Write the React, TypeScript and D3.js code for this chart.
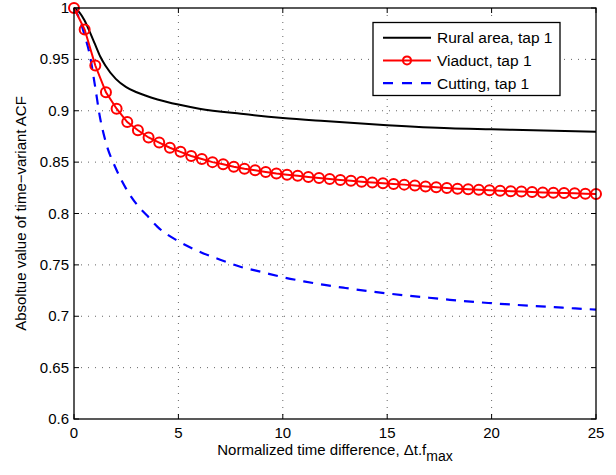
import React from "react";
import * as d3 from "d3";

// rural area, tap 1 (black solid)
const ruralT = [0, 0.25, 0.5, 0.75, 1, 1.25, 1.5, 2, 2.5, 3, 4, 5, 6, 8, 10, 12, 15, 18, 20, 22, 25];
const ruralV = [1, 0.996, 0.988, 0.977, 0.965, 0.953, 0.944, 0.931, 0.923, 0.918, 0.911, 0.906, 0.902, 0.897, 0.893, 0.89, 0.886, 0.883, 0.882, 0.881, 0.8795];

// viaduct, tap 1 (red, circles) - 50 samples evenly spread over 0..25
const viaductV = [
  1, 0.979, 0.944, 0.918, 0.902, 0.889, 0.881, 0.874, 0.869, 0.864,
  0.86, 0.856, 0.853, 0.85, 0.848, 0.8455, 0.8435, 0.842, 0.8405, 0.839,
  0.8378, 0.8367, 0.8356, 0.8346, 0.8336, 0.8327, 0.8318, 0.831, 0.8302, 0.8295,
  0.8288, 0.8281, 0.8272, 0.8263, 0.8255, 0.8248, 0.8242, 0.8236, 0.8231, 0.8226,
  0.8221, 0.8217, 0.8213, 0.8209, 0.8205, 0.8202, 0.8199, 0.8196, 0.8193, 0.819,
];
const viaductT = viaductV.map((_, i) => (i * 25) / (viaductV.length - 1));

// cutting, tap 1 (blue dashed)
const cuttingT = [0, 0.25, 0.5, 0.75, 1, 1.25, 1.5, 2, 2.5, 3, 3.5, 4, 5, 6, 7, 8, 9, 10, 11, 12, 13, 14, 15, 16, 17, 18, 19, 20, 21, 22, 23, 24, 25];
const cuttingV = [1, 0.99, 0.974, 0.955, 0.925, 0.893, 0.871, 0.844, 0.824, 0.809, 0.798, 0.787, 0.773, 0.763, 0.755, 0.748, 0.743, 0.738, 0.734, 0.7305, 0.7275, 0.7247, 0.7222, 0.72, 0.718, 0.716, 0.7142, 0.7127, 0.7113, 0.71, 0.7088, 0.7076, 0.7065];

const xTicks = [0, 5, 10, 15, 20, 25];
const yTicks = [0.6, 0.65, 0.7, 0.75, 0.8, 0.85, 0.9, 0.95, 1];
const legendLabels = ["Rural area, tap 1", "Viaduct, tap 1", "Cutting, tap 1"];

const W = 616;
const H = 475;
const left = 74, right = 596, top = 8, bottom = 419;
const font = "'Liberation Sans', Arial, Helvetica, sans-serif";

export default function App() {
  const x = d3.scaleLinear().domain([0, 25]).range([left, right]);
  const y = d3.scaleLinear().domain([0.6, 1]).range([bottom, top]);

  const line = d3
    .line<[number, number]>()
    .x((d) => x(d[0]))
    .y((d) => y(d[1]))
    .curve(d3.curveMonotoneX);

  const rural = line(ruralT.map((t, i) => [t, ruralV[i]]));
  const viaduct = d3
    .line<[number, number]>()
    .x((d) => x(d[0]))
    .y((d) => y(d[1]))(viaductT.map((t, i) => [t, viaductV[i]]));
  const cutting = line(cuttingT.map((t, i) => [t, cuttingV[i]]));

  const tickLen = 5;
  const grid = "#666";

  return (
    <svg
      width={W}
      height={H}
      style={{ position: "absolute", left: 0, top: 0, background: "#fff" }}
      fontFamily={font}
    >
      <rect x={0} y={0} width={W} height={H} fill="#fff" />
      {/* grid */}
      {xTicks.slice(1, -1).map((t) => (
        <line key={"gx" + t} x1={x(t)} x2={x(t)} y1={top} y2={bottom} stroke={grid} strokeWidth={1} strokeDasharray="1,6" />
      ))}
      {yTicks.slice(1, -1).map((t) => (
        <line key={"gy" + t} x1={left} x2={right} y1={y(t)} y2={y(t)} stroke={grid} strokeWidth={1} strokeDasharray="1,6" />
      ))}

      {/* curves */}
      <path d={rural || ""} fill="none" stroke="#000" strokeWidth={2} />
      <path d={cutting || ""} fill="none" stroke="#0000ff" strokeWidth={2.2} strokeDasharray="10,8" />
      <path d={viaduct || ""} fill="none" stroke="#ff0000" strokeWidth={2} />
      {viaductT.map((t, i) => (
        <circle key={i} cx={x(t)} cy={y(viaductV[i])} r={5} fill="none" stroke="#ff0000" strokeWidth={2} />
      ))}

      {/* axes box */}
      <rect x={left} y={top} width={right - left} height={bottom - top} fill="none" stroke="#000" strokeWidth={1.3} />
      {xTicks.map((t) => (
        <g key={"tx" + t}>
          <line x1={x(t)} x2={x(t)} y1={bottom} y2={bottom - tickLen} stroke="#000" />
          <line x1={x(t)} x2={x(t)} y1={top} y2={top + tickLen} stroke="#000" />
          <text x={x(t)} y={438} textAnchor="middle" fontSize={15}>
            {t}
          </text>
        </g>
      ))}
      {yTicks.map((t) => (
        <g key={"ty" + t}>
          <line x1={left} x2={left + tickLen} y1={y(t)} y2={y(t)} stroke="#000" />
          <line x1={right} x2={right - tickLen} y1={y(t)} y2={y(t)} stroke="#000" />
          <text x={69} y={y(t) + 5} textAnchor="end" fontSize={15}>
            {d3.format("")(t)}
          </text>
        </g>
      ))}

      {/* axis titles */}
      <text x={(left + right) / 2} y={455} textAnchor="middle" fontSize={15}>
        Normalized time difference, Δt.f
        <tspan fontSize={14} dy={6}>max</tspan>
      </text>
      <text
        transform={`translate(26, ${(top + bottom) / 2}) rotate(-90)`}
        textAnchor="middle"
        fontSize={15}
      >
        Absoltue value of time−variant ACF
      </text>

      {/* legend */}
      <rect x={373} y={22.5} width={187} height={73} fill="#fff" stroke="#000" strokeWidth={1.3} />
      {legendLabels.map((label, i) => {
        const ly = 37.7 + i * 22.7;
        return (
          <g key={label}>
            {i === 0 && <line x1={383} x2={431} y1={ly} y2={ly} stroke="#000" strokeWidth={2} />}
            {i === 1 && (
              <>
                <line x1={383} x2={431} y1={ly} y2={ly} stroke="#ff0000" strokeWidth={2} />
                <circle cx={407} cy={ly} r={4} fill="none" stroke="#ff0000" strokeWidth={2} />
              </>
            )}
            {i === 2 && (
              <line x1={383} x2={431} y1={ly} y2={ly} stroke="#0000ff" strokeWidth={2.2} strokeDasharray="10,9" />
            )}
            <text x={437} y={ly + 5.5} fontSize={15.5}>
              {label}
            </text>
          </g>
        );
      })}
    </svg>
  );
}
